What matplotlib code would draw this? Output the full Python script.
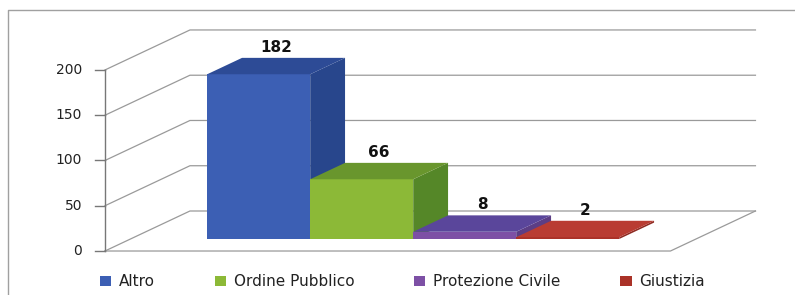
import matplotlib
matplotlib.use('Agg')
import matplotlib.pyplot as plt
from matplotlib.patches import Polygon, Patch
from matplotlib.lines import Line2D

categorie = ['Altro', 'Ordine Pubblico', 'Protezione Civile', 'Giustizia']
valori = [182, 66, 8, 2]
col_fronte = ['#3C5FB4', '#8CB937', '#7D50A5', '#AA3228']
col_sopra = ['#2D4B96', '#69962D', '#5A469B', '#B93C32']
col_lato = ['#28468C', '#558728', '#5C3E85', '#8E2A22']
yticks = [0, 50, 100, 150, 200]

# finta prospettiva 3D (stile Excel): vettore profondita' in unita' dati
DX, DY = 0.825, 44.2
D0, D1 = 0.30, 0.71      # profondita' delle barre (frazione)
MARG = 0.745
W = len(valori) + 2 * MARG
griglia = '#9A9A9A'

fig = plt.figure(figsize=(7.95, 2.95), dpi=100)
ax = fig.add_axes([0, 0, 1, 1])
ax.set_xlim(-1.019, 6.699)
ax.set_ylim(-48.6, 277.3)
ax.set_axis_off()


def proj(x, y, d):
    return (x + d * DX, y + d * DY)


# pareti e griglia
for t in yticks:
    ax.plot([0, DX, W + DX], [t, t + DY, t + DY], color=griglia, lw=0.9, zorder=1)
ax.plot([0, W, W + DX], [0, 0, DY], color=griglia, lw=0.9, zorder=1)

# asse verticale frontale
ax.plot([0, 0], [0, yticks[-1]], color='#777777', lw=1, zorder=2)
for t in yticks:
    ax.plot([-0.095, 0], [t, t], color='#777777', lw=1, zorder=2)
    ax.text(-0.22, t, str(t), ha='right', va='center', fontsize=10, color='#222222')

# barre
for i, v in enumerate(valori):
    x0 = MARG + i
    x1 = x0 + 1
    lato = [proj(x1, 0, D0), proj(x1, 0, D1), proj(x1, v, D1), proj(x1, v, D0)]
    fronte = [proj(x0, 0, D0), proj(x1, 0, D0), proj(x1, v, D0), proj(x0, v, D0)]
    sopra = [proj(x0, v, D0), proj(x1, v, D0), proj(x1, v, D1), proj(x0, v, D1)]
    ax.add_patch(Polygon(lato, closed=True, facecolor=col_lato[i], edgecolor='none', zorder=3 + i))
    ax.add_patch(Polygon(fronte, closed=True, facecolor=col_fronte[i], edgecolor='none', zorder=3 + i))
    ax.add_patch(Polygon(sopra, closed=True, facecolor=col_sopra[i], edgecolor='none', zorder=3 + i))
    ax.annotate(str(v), xy=(x0 + 0.5 + (D0 + D1) / 2 * DX, v + D1 * DY),
                xytext=(0, 4.5), textcoords='offset points',
                ha='center', va='baseline', fontsize=11, fontweight='bold', color='#111111')

# legenda
maniglie = [Patch(facecolor=c, edgecolor='none') for c in col_fronte]
fig.legend(maniglie, categorie, loc='center left', bbox_to_anchor=(100 / 795, 13 / 295),
           ncol=4, frameon=False, fontsize=11, handlelength=0.75, handleheight=0.6,
           handletextpad=0.5, columnspacing=3.9, borderpad=0, borderaxespad=0,
           labelcolor='#222222')

# cornice esterna
fig.add_artist(Line2D([8 / 795, 8 / 795, 1], [0, 285 / 295, 285 / 295],
                      transform=fig.transFigure, color='#A0A0A0', lw=1))

fig.savefig('out.png', dpi=100)
